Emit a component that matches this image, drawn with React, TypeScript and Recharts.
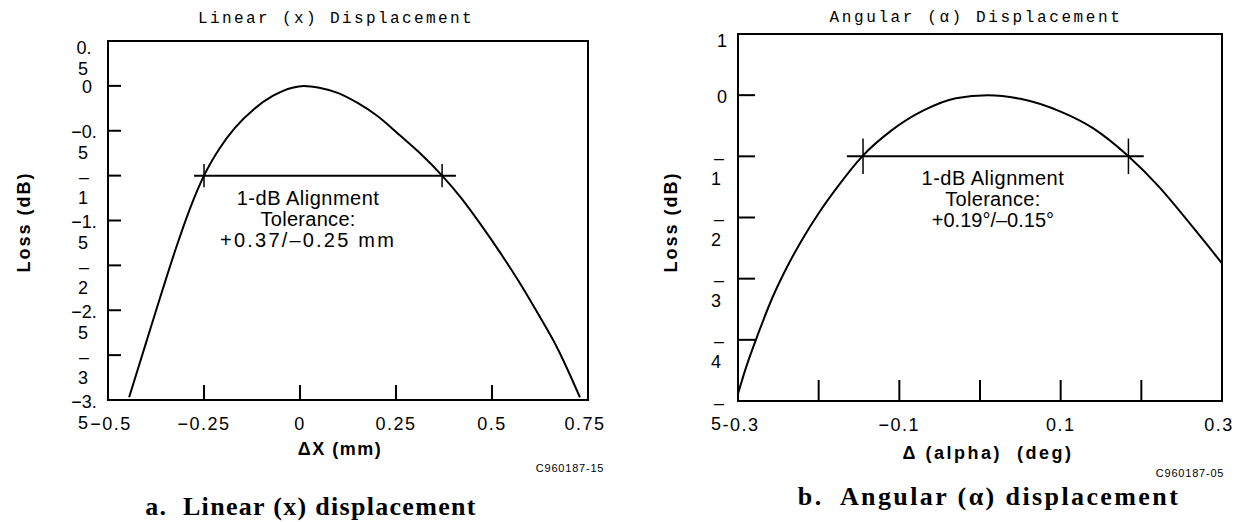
import React from 'react';
import { LineChart, Line, XAxis, YAxis, ReferenceArea, ReferenceLine, ReferenceDot } from 'recharts';

// a. Linear (x) displacement
const linearDx = [-0.445, -0.4, -0.36, -0.32, -0.285, -0.25, -0.21, -0.17, -0.12, -0.07, -0.02, 0.01, 0.05, 0.1, 0.15, 0.2, 0.26, 0.31, 0.37, 0.42, 0.47, 0.52, 0.57, 0.62, 0.67, 0.729];
const linearLoss = [-3.47, -2.85, -2.3, -1.77, -1.35, -1.0, -0.7, -0.47, -0.26, -0.11, -0.02, 0, -0.02, -0.08, -0.19, -0.33, -0.55, -0.74, -1.0, -1.25, -1.54, -1.85, -2.18, -2.54, -2.92, -3.47];
const linearXTicks = [-0.5, -0.25, 0, 0.25, 0.5, 0.75];
const linearXLabels = ['−0.5', '−0.25', '0', '0.25', '0.5', '0.75'];
const linearYTicks = [0.5, 0, -0.5, -1, -1.5, -2, -2.5, -3, -3.5];
const linearYLabels = [['0.', '5'], ['0'], ['−0.', '5'], ['–', '1'], ['−1.', '5'], ['–', '2'], ['−2.', '5'], ['–', '3'], ['−3.', '5']];
const linearTolSpan = [-0.276, 0.406];
const linearTolMarks = [-0.25, 0.37];
const linearNote = ['1-dB Alignment', 'Tolerance:', '+0.37/–0.25 mm'];

// b. Angular (alpha) displacement
const angularDa = [-0.3, -0.29, -0.275, -0.257, -0.24, -0.22, -0.2, -0.175, -0.146, -0.11, -0.07, -0.03, 0.01, 0.05, 0.1, 0.14, 0.184, 0.222, 0.256, 0.28, 0.3];
const angularLoss = [-4.88, -4.45, -3.9, -3.3, -2.83, -2.35, -1.93, -1.47, -1.0, -0.58, -0.25, -0.05, 0, -0.06, -0.27, -0.54, -1.0, -1.5, -2.03, -2.42, -2.75];
const angularXTicks = [-0.3, -0.2, -0.1, 0, 0.1, 0.2, 0.3];
const angularXLabels = ['-0.3', '', '−0.1', '', '0.1', '', '0.3'];
const angularYTicks = [1, 0, -1, -2, -3, -4, -5];
const angularYLabels = [['1'], ['0'], ['–', '1'], ['–', '2'], ['–', '3'], ['–', '4'], ['–', '5']];
const angularTolSpan = [-0.165, 0.203];
const angularTolMarks = [-0.145, 0.184];
const angularNote = ['1-dB Alignment', 'Tolerance:', '+0.19°/–0.15°'];

const tolLevel = -1;

const SANS = '"Liberation Sans", Arial, Helvetica, sans-serif';
const MONO = '"Liberation Mono", "DejaVu Sans Mono", monospace';
const SERIF = '"Liberation Serif", "Times New Roman", serif';

interface PanelProps {
  left: number;
  width: number;
  margin: { top: number; right: number; bottom: number; left: number };
  xs: number[];
  ys: number[];
  xDomain: [number, number];
  yDomain: [number, number];
  xTicks: number[];
  xLabels: string[];
  yTicks: number[];
  yLabels: string[][];
  tolSpan: number[];
  tolMarks: number[];
  tolHalf: number;
  note: string[];
  noteX: number;
  noteSpacing: number[];
  xMark: number;
  yMark: number;
  yDx: number[]; // single line, first line, second line offsets from the axis
}

const Panel: React.FC<PanelProps> = (p) => {
  const data = p.xs.map((x, i) => ({ x, loss: p.ys[i] }));
  const plotTop = p.margin.top;

  const xTick = (t: any) => {
    const v = t.payload.value;
    const i = p.xTicks.indexOf(v);
    const edge = v === p.xDomain[0] || v === p.xDomain[1];
    // labels at the box corners sit a little inside
    const shift = v === p.xDomain[0] ? 3 : v === p.xDomain[1] ? -3 : 0;
    return (
      <g>
        {!edge && <line x1={t.x} x2={t.x} y1={t.y} y2={t.y - p.xMark} stroke="#000" strokeWidth={2} />}
        {p.xLabels[i] ? (
          <text x={t.x + shift} y={t.y + 30} textAnchor="middle" fontFamily={SANS} fontSize={18} letterSpacing={1.5} fill="#000">
            {p.xLabels[i]}
          </text>
        ) : null}
      </g>
    );
  };

  const yTick = (t: any) => {
    const v = t.payload.value;
    const i = p.yTicks.indexOf(v);
    const edge = v === p.yDomain[0] || v === p.yDomain[1];
    const lines = p.yLabels[i] || [];
    const c = Math.max(t.y + 1, plotTop + 6);
    return (
      <g>
        {!edge && <line x1={t.x} x2={t.x + p.yMark} y1={t.y} y2={t.y} stroke="#000" strokeWidth={2} />}
        {lines.map((s, k) => (
          <text
            key={k}
            x={t.x - (lines.length === 1 ? p.yDx[0] : p.yDx[k + 1])}
            y={c + k * 21 + 6.5}
            textAnchor="middle"
            fontFamily={SANS}
            fontSize={18}
            fill="#000"
          >
            {s}
          </text>
        ))}
      </g>
    );
  };

  const noteShape = (s: any) => (
    <g>
      {p.note.map((t, i) => (
        <text
          key={i}
          x={s.cx}
          y={s.cy + 29 + i * 21}
          textAnchor="middle"
          fontFamily={SANS}
          fontSize={20}
          letterSpacing={p.noteSpacing[i]}
          fill="#000"
        >
          {t}
        </text>
      ))}
    </g>
  );

  return (
    <div style={{ position: 'absolute', left: p.left, top: 0 }}>
      <LineChart width={p.width} height={522} data={data} margin={p.margin}>
        <XAxis
          type="number"
          dataKey="x"
          domain={p.xDomain}
          ticks={p.xTicks}
          interval={0}
          allowDataOverflow
          axisLine={false}
          tickLine={false}
          tickSize={0}
          tickMargin={0}
          height={1}
          tick={xTick}
        />
        <YAxis
          type="number"
          domain={p.yDomain}
          ticks={p.yTicks}
          interval={0}
          allowDataOverflow
          axisLine={false}
          tickLine={false}
          tickSize={0}
          tickMargin={0}
          width={1}
          tick={yTick}
        />
        <ReferenceArea x1={p.xDomain[0]} x2={p.xDomain[1]} y1={p.yDomain[0]} y2={p.yDomain[1]} fill="none" stroke="#000" strokeWidth={2} />
        <ReferenceLine
          segment={[{ x: p.tolSpan[0], y: tolLevel }, { x: p.tolSpan[1], y: tolLevel }]}
          stroke="#000"
          strokeWidth={2}
        />
        {p.tolMarks.map((m) => (
          <ReferenceLine
            key={m}
            segment={[{ x: m, y: tolLevel - p.tolHalf }, { x: m, y: tolLevel + p.tolHalf }]}
            stroke="#000"
            strokeWidth={1.5}
          />
        ))}
        <ReferenceDot x={p.noteX} y={tolLevel} r={0} shape={noteShape} />
        <Line type="monotone" dataKey="loss" stroke="#000" strokeWidth={2} dot={false} isAnimationActive={false} />
      </LineChart>
    </div>
  );
};

const App: React.FC = () => {
  return (
    <div style={{ position: 'absolute', left: 0, top: 0, width: 1242, height: 522, background: '#fff', overflow: 'hidden' }}>
      <Panel
        left={0}
        width={621}
        margin={{ top: 41, right: 33, bottom: 121, left: 107 }}
        xs={linearDx}
        ys={linearLoss}
        xDomain={[-0.5, 0.75]}
        yDomain={[-3.5, 0.5]}
        xTicks={linearXTicks}
        xLabels={linearXLabels}
        yTicks={linearYTicks}
        yLabels={linearYLabels}
        tolSpan={linearTolSpan}
        tolMarks={linearTolMarks}
        tolHalf={0.13}
        note={linearNote}
        noteX={0.021}
        noteSpacing={[0.5, 0.3, 2.2]}
        xMark={15}
        yMark={13}
        yDx={[21, 24, 25]}
      />
      <Panel
        left={621}
        width={621}
        margin={{ top: 34, right: 20, bottom: 120, left: 116 }}
        xs={angularDa}
        ys={angularLoss}
        xDomain={[-0.3, 0.3]}
        yDomain={[-5, 1]}
        xTicks={angularXTicks}
        xLabels={angularXLabels}
        yTicks={angularYTicks}
        yLabels={angularYLabels}
        tolSpan={angularTolSpan}
        tolMarks={angularTolMarks}
        tolHalf={0.29}
        note={angularNote}
        noteX={0.016}
        noteSpacing={[0.5, 0.3, 0]}
        xMark={21}
        yMark={17}
        yDx={[16, 19, 22]}
      />
      <svg width={1242} height={522} style={{ position: 'absolute', left: 0, top: 0, pointerEvents: 'none' }}>
        <text x={336} y={23} textAnchor="middle" fontFamily={MONO} fontSize={16} letterSpacing={2.4} fill="#000">
          Linear (x) Displacement
        </text>
        <text x={976} y={22} textAnchor="middle" fontFamily={MONO} fontSize={16} letterSpacing={2.6} fill="#000">
          Angular (α) Displacement
        </text>
        <text transform="translate(30,222) rotate(-90)" textAnchor="middle" fontFamily={SANS} fontSize={18} fontWeight="bold" letterSpacing={2} fill="#000">
          Loss (dB)
        </text>
        <text transform="translate(677,222) rotate(-90)" textAnchor="middle" fontFamily={SANS} fontSize={18} fontWeight="bold" letterSpacing={2} fill="#000">
          Loss (dB)
        </text>
        <text x={340} y={455} textAnchor="middle" fontFamily={SANS} fontSize={18} fontWeight="bold" letterSpacing={1.5} fill="#000">
          ΔX (mm)
        </text>
        <text x={988} y={459} textAnchor="middle" fontFamily={SANS} fontSize={18} fontWeight="bold" letterSpacing={2.5} fill="#000" style={{ whiteSpace: 'pre' }}>
          {'Δ (alpha)  (deg)'}
        </text>
        <text x={570} y={472} textAnchor="middle" fontFamily={SANS} fontSize={11} letterSpacing={0.8} fill="#000">
          C960187-15
        </text>
        <text x={1190} y={477} textAnchor="middle" fontFamily={SANS} fontSize={11} letterSpacing={0.8} fill="#000">
          C960187-05
        </text>
        <text x={311} y={515} textAnchor="middle" fontFamily={SERIF} fontSize={26} fontWeight="bold" letterSpacing={1.3} fill="#000" style={{ whiteSpace: 'pre' }}>
          {'a.  Linear (x) displacement'}
        </text>
        <text x={989} y={505} textAnchor="middle" fontFamily={SERIF} fontSize={26} fontWeight="bold" letterSpacing={2.4} fill="#000" style={{ whiteSpace: 'pre' }}>
          {'b.  Angular (α) displacement'}
        </text>
      </svg>
    </div>
  );
};

export default App;
